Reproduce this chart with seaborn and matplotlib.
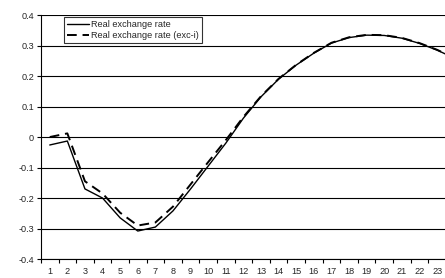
import matplotlib
matplotlib.use("Agg")
import matplotlib.pyplot as plt
import seaborn as sns
import numpy as np
import pandas as pd

# quarters after the shock (the 24th runs off the right edge of the chart)
periods = list(range(1, 25))

real_rate = [-0.026, -0.013, -0.170, -0.200, -0.265, -0.308, -0.295, -0.242,
             -0.170, -0.095, -0.020, 0.062, 0.132, 0.190, 0.236, 0.275,
             0.308, 0.326, 0.334, 0.333, 0.324, 0.307, 0.285, 0.258]

real_rate_exc = [0.000, 0.012, -0.145, -0.185, -0.248, -0.290, -0.280, -0.228,
                 -0.155, -0.082, -0.010, 0.066, 0.134, 0.191, 0.237, 0.276,
                 0.309, 0.327, 0.335, 0.334, 0.325, 0.308, 0.286, 0.259]

shown_periods = list(range(1, 24))
yticks = [-0.4, -0.3, -0.2, -0.1, 0, 0.1, 0.2, 0.3, 0.4]
ytick_labels = ["-0.4", "-0.3", "-0.2", "-0.1", "0", "0.1", "0.2", "0.3", "0.4"]

df = pd.DataFrame({"period": periods, "real": real_rate, "exc": real_rate_exc})

sns.set_style("white")
plt.rcParams["font.family"] = ["Liberation Sans", "DejaVu Sans"]

fig = plt.figure(figsize=(4.45, 2.78), dpi=100)
ax = fig.add_axes([0.092, 0.068, 0.91, 0.878])

# horizontal grid lines like the spreadsheet original
for yv in yticks:
    ax.axhline(yv, color="black", lw=0.8, zorder=1)

sns.lineplot(data=df, x="period", y="exc", ax=ax, color="black", lw=1.4,
             label="Real exchange rate (exc-i)", zorder=3)
ax.lines[-1].set_dashes([5, 3])
sns.lineplot(data=df, x="period", y="real", ax=ax, color="black", lw=1.0,
             label="Real exchange rate", zorder=4)

ax.set_xlim(0.5, 23.5)
ax.set_ylim(-0.4, 0.4)
ax.set_xlabel("")
ax.set_ylabel("")

# category labels centred, tick marks between categories
ax.set_xticks(shown_periods)
ax.set_xticklabels([str(p) for p in shown_periods], fontsize=6.6)
ax.set_xticks(np.arange(0.5, 24, 1), minor=True)
ax.tick_params(axis="x", which="major", length=0, pad=6)
ax.tick_params(axis="x", which="minor", length=3, width=0.8, color="black",
               direction="out", bottom=True)
ax.set_yticks(yticks)
ax.set_yticklabels(ytick_labels, fontsize=6.6)
ax.tick_params(axis="y", length=3, width=0.8, color="black", direction="out",
               left=True, pad=2)

for side in ["top", "right"]:
    ax.spines[side].set_visible(False)
for side in ["left", "bottom"]:
    ax.spines[side].set_color("black")
    ax.spines[side].set_linewidth(0.8)

handles, labels = ax.get_legend_handles_labels()
leg = ax.legend(handles[::-1], labels[::-1], loc="upper left",
                bbox_to_anchor=(0.058, 0.99), fontsize=6.6,
                frameon=True, fancybox=False, edgecolor="black",
                handlelength=2.4, handletextpad=0.2, borderpad=0.3,
                labelspacing=0.25, borderaxespad=0)
leg.get_frame().set_linewidth(0.8)
leg.get_frame().set_facecolor("white")

fig.savefig("out.png", dpi=100)
